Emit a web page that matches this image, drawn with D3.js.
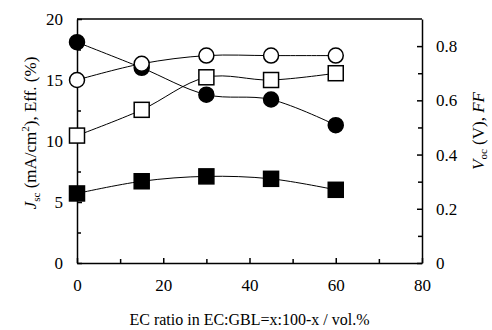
<!DOCTYPE html>
<html>
<head>
<meta charset="utf-8">
<script src="https://cdn.jsdelivr.net/npm/d3@7"></script>
<style>
  body { margin: 0; background: #fff; }
  svg text { font-family: "Liberation Serif", "DejaVu Serif", serif; fill: #000; }
</style>
</head>
<body>
<div id="chart"></div>
<script>
const ecRatio = [0, 15, 30, 45, 60];
const jsc = [18.1, 16.0, 13.8, 13.4, 11.3];   // filled circles, left axis
const eff = [5.7, 6.7, 7.1, 6.9, 6.0];        // filled squares, left axis
const voc = [0.675, 0.735, 0.765, 0.765, 0.765]; // open circles, right axis
const ff = [0.47, 0.565, 0.685, 0.675, 0.70];    // open squares, right axis

const xTicks = [0, 20, 40, 60, 80];
const leftTicks = [0, 5, 10, 15, 20];
const rightTicks = [0, 0.2, 0.4, 0.6, 0.8];

const width = 492, height = 330;
const margin = {left: 77, right: 70, top: 19, bottom: 67};

const svg = d3.select("#chart")
    .append("svg")
    .attr("width", width)
    .attr("height", height);

const x = d3.scaleLinear().domain([0, 80]).range([margin.left, width - margin.right]);
const yL = d3.scaleLinear().domain([0, 20]).range([height - margin.bottom, margin.top]);
const yR = d3.scaleLinear().domain([0, 0.9]).range([height - margin.bottom, margin.top]);

// minor ticks
svg.append("g")
    .attr("transform", `translate(0,${height - margin.bottom})`)
    .call(d3.axisTop(x).tickValues([10, 30, 50, 70]).tickSize(4).tickFormat(""))
    .call(g => g.select(".domain").remove());
svg.append("g")
    .attr("transform", `translate(${margin.left},0)`)
    .call(d3.axisRight(yL).tickValues([2.5, 7.5, 12.5, 17.5]).tickSize(4).tickFormat(""))
    .call(g => g.select(".domain").remove());
svg.append("g")
    .attr("transform", `translate(${width - margin.right},0)`)
    .call(d3.axisLeft(yR).tickValues([0.1, 0.3, 0.5, 0.7]).tickSize(4).tickFormat(""))
    .call(g => g.select(".domain").remove());

// major axes
svg.append("g")
    .attr("class", "axis")
    .attr("transform", `translate(0,${height - margin.bottom})`)
    .call(d3.axisBottom(x).tickValues(xTicks).tickSizeInner(-5).tickSizeOuter(0).tickPadding(16));
svg.append("g")
    .attr("class", "axis")
    .attr("transform", `translate(${margin.left},0)`)
    .call(d3.axisLeft(yL).tickValues(leftTicks).tickSizeInner(-5).tickSizeOuter(0).tickPadding(14));
svg.append("g")
    .attr("class", "axis")
    .attr("transform", `translate(${width - margin.right},0)`)
    .call(d3.axisRight(yR).tickValues(rightTicks).tickFormat(d => d === 0 ? "0" : d3.format(".1f")(d))
        .tickSizeInner(-5).tickSizeOuter(0).tickPadding(14));

svg.selectAll(".axis")
    .attr("font-family", "Liberation Serif, serif")
    .attr("font-size", 17);
svg.selectAll(".domain, .tick line").attr("stroke", "#000").attr("stroke-width", 1.5);

// top frame
svg.append("line")
    .attr("x1", margin.left).attr("x2", width - margin.right)
    .attr("y1", margin.top).attr("y2", margin.top)
    .attr("stroke", "#000").attr("stroke-width", 1.5);

const plot = svg.append("g");

const series = [
    {vals: jsc, y: yL, shape: "circle", fill: "#000"},
    {vals: eff, y: yL, shape: "square", fill: "#000"},
    {vals: voc, y: yR, shape: "circle", fill: "#fff"},
    {vals: ff, y: yR, shape: "square", fill: "#fff"}
];

series.forEach(s => {
    const line = d3.line()
        .x((d, i) => x(ecRatio[i]))
        .y(d => s.y(d))
        .curve(d3.curveCatmullRom.alpha(0.5));
    plot.append("path")
        .attr("d", line(s.vals))
        .attr("fill", "none")
        .attr("stroke", "#000")
        .attr("stroke-width", 1);
});

series.forEach(s => {
    const g = plot.append("g");
    if (s.shape === "circle") {
        g.selectAll("circle")
            .data(s.vals)
            .enter()
            .append("circle")
            .attr("cx", (d, i) => x(ecRatio[i]))
            .attr("cy", d => s.y(d))
            .attr("r", 7.5)
            .attr("fill", s.fill)
            .attr("stroke", "#000")
            .attr("stroke-width", 1.5);
    } else {
        g.selectAll("rect")
            .data(s.vals)
            .enter()
            .append("rect")
            .attr("x", (d, i) => x(ecRatio[i]) - 7.5)
            .attr("y", d => s.y(d) - 7.5)
            .attr("width", 15)
            .attr("height", 15)
            .attr("fill", s.fill)
            .attr("stroke", "#000")
            .attr("stroke-width", 1.5);
    }
});

// axis titles
svg.append("text")
    .attr("x", (margin.left + width - margin.right) / 2)
    .attr("y", 325)
    .attr("text-anchor", "middle")
    .style("font-size", "16px")
    .text("EC ratio in EC:GBL=x:100-x / vol.%");

const leftTitle = svg.append("text")
    .attr("transform", `translate(36,133) rotate(-90)`)
    .attr("text-anchor", "middle")
    .style("font-size", "17px");
leftTitle.append("tspan").style("font-style", "italic").text("J");
leftTitle.append("tspan").attr("dy", 4).style("font-size", "11px").text("sc");
leftTitle.append("tspan").attr("dy", -4).text(" (mA/cm");
leftTitle.append("tspan").attr("dy", -7).style("font-size", "11px").text("2");
leftTitle.append("tspan").attr("dy", 7).text("), Eff. (%)");

const rightTitle = svg.append("text")
    .attr("transform", `translate(484,131) rotate(-90)`)
    .attr("text-anchor", "middle")
    .style("font-size", "17px");
rightTitle.append("tspan").style("font-style", "italic").text("V");
rightTitle.append("tspan").attr("dy", 3).style("font-size", "11px").text("oc");
rightTitle.append("tspan").attr("dy", -3).text(" (V), ");
rightTitle.append("tspan").style("font-style", "italic").text("FF");
</script>
</body>
</html>
